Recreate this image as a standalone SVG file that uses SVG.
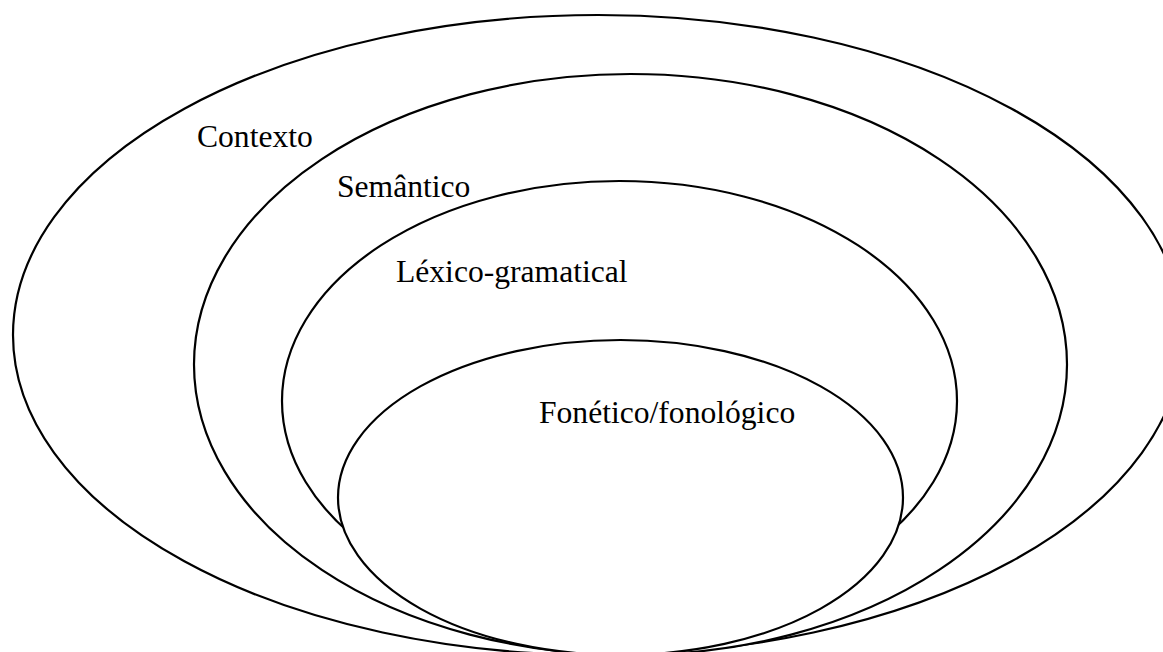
<svg xmlns="http://www.w3.org/2000/svg" width="1163" height="652" viewBox="0 0 1163 652">
<style>
.e{fill:#fff;stroke:#000;stroke-width:2.2}
.t{font-family:"Liberation Serif","Times New Roman",serif;font-size:31.6px;fill:#000}
</style>
<rect width="1163" height="652" fill="#fff"/>
<g id="contexto">
<ellipse class="e" cx="598" cy="335" rx="585" ry="320"/>
</g>
<g id="semantico">
<ellipse class="e" cx="630.5" cy="364.5" rx="436.5" ry="290.5"/>
</g>
<g id="lexico">
<ellipse class="e" cx="619.5" cy="401" rx="337.5" ry="220"/>
</g>
<g id="fonetico">
<ellipse class="e" cx="620.5" cy="497.5" rx="282.5" ry="157.5"/>
</g>
<g id="connectors"></g>
<g id="labels">
<text class="t" x="197" y="146.5">Contexto</text>
<text class="t" x="337" y="197">Semântico</text>
<text class="t" x="396" y="281.5">Léxico-gramatical</text>
<text class="t" x="539" y="423">Fonético/fonológico</text>
</g>
</svg>
